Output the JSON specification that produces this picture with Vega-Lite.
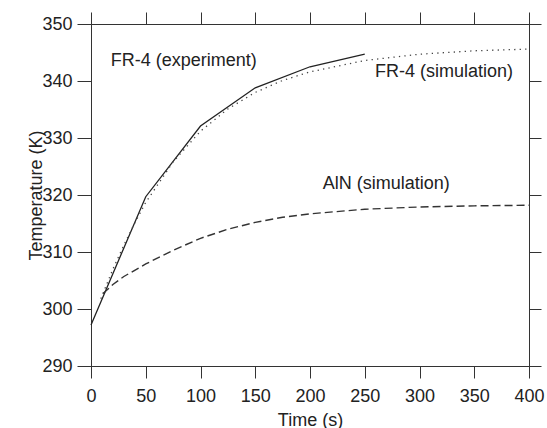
{
  "$schema": "https://vega.github.io/schema/vega-lite/v6.json",
  "width": 438,
  "height": 342,
  "autosize": {"type": "none"},
  "padding": {"left": 91, "top": 24, "right": 18, "bottom": 62},
  "background": "white",
  "config": {
    "font": "Liberation Sans",
    "view": {"stroke": "#333", "strokeWidth": 1},
    "axis": {
      "grid": false,
      "domainColor": "#333",
      "tickColor": "#333",
      "labelColor": "#222",
      "titleColor": "#222",
      "labelFontSize": 18,
      "titleFontSize": 18,
      "titleFontWeight": "normal",
      "labelFont": "Liberation Sans",
      "titleFont": "Liberation Sans"
    }
  },
  "datasets": {
    "lines": [
      {"series": "exp", "time": 0, "temp": 297.2},
      {"series": "exp", "time": 50, "temp": 319.7},
      {"series": "exp", "time": 100, "temp": 332.1},
      {"series": "exp", "time": 150, "temp": 338.8},
      {"series": "exp", "time": 200, "temp": 342.5},
      {"series": "exp", "time": 250, "temp": 344.7},
      {"series": "sim", "time": 9, "temp": 301.8},
      {"series": "sim", "time": 20, "temp": 307.0},
      {"series": "sim", "time": 30, "temp": 311.2},
      {"series": "sim", "time": 40, "temp": 315.1},
      {"series": "sim", "time": 50, "temp": 318.7},
      {"series": "sim", "time": 75, "temp": 325.8},
      {"series": "sim", "time": 100, "temp": 331.2},
      {"series": "sim", "time": 125, "temp": 335.1},
      {"series": "sim", "time": 150, "temp": 338.0},
      {"series": "sim", "time": 175, "temp": 340.1},
      {"series": "sim", "time": 200, "temp": 341.6},
      {"series": "sim", "time": 250, "temp": 343.6},
      {"series": "sim", "time": 300, "temp": 344.7},
      {"series": "sim", "time": 350, "temp": 345.3},
      {"series": "sim", "time": 400, "temp": 345.6},
      {"series": "aln", "time": 11, "temp": 302.7},
      {"series": "aln", "time": 20, "temp": 304.3},
      {"series": "aln", "time": 30, "temp": 305.7},
      {"series": "aln", "time": 50, "temp": 307.9},
      {"series": "aln", "time": 75, "temp": 310.3},
      {"series": "aln", "time": 100, "temp": 312.4},
      {"series": "aln", "time": 125, "temp": 314.0},
      {"series": "aln", "time": 150, "temp": 315.2},
      {"series": "aln", "time": 175, "temp": 316.1},
      {"series": "aln", "time": 200, "temp": 316.7},
      {"series": "aln", "time": 250, "temp": 317.5},
      {"series": "aln", "time": 300, "temp": 317.9},
      {"series": "aln", "time": 350, "temp": 318.1},
      {"series": "aln", "time": 400, "temp": 318.2}
    ],
    "notes": [
      {"label": "FR-4 (experiment)", "time": 18, "temp": 342.7},
      {"label": "FR-4 (simulation)", "time": 259.4, "temp": 340.7},
      {"label": "AlN (simulation)", "time": 211.6, "temp": 321.0}
    ]
  },
  "layer": [
    {
      "data": {"name": "lines"},
      "transform": [{"filter": "datum.series === 'exp'"}],
      "mark": {"type": "line", "color": "#222", "strokeWidth": 1.3},
      "encoding": {
        "x": {
          "field": "time", "type": "quantitative",
          "scale": {"domain": [0, 400], "nice": false},
          "axis": {
            "orient": "bottom", "values": [0, 50, 100, 150, 200, 250, 300, 350, 400],
            "tickSize": 12, "labelPadding": 9, "labelFlush": false,
            "title": "Time (s)", "titlePadding": 6
          }
        },
        "y": {
          "field": "temp", "type": "quantitative",
          "scale": {"domain": [290, 350], "nice": false, "zero": false},
          "axis": {
            "orient": "left", "values": [290, 300, 310, 320, 330, 340, 350],
            "tickSize": 14, "labelPadding": 5, "labelFlush": false,
            "title": "Temperature (K)", "titlePadding": 0, "titleBaseline": "alphabetic"
          }
        }
      }
    },
    {
      "data": {"name": "lines"},
      "transform": [{"filter": "datum.series === 'sim'"}],
      "mark": {"type": "line", "color": "#444", "strokeWidth": 1.3, "strokeDash": [1.3, 4.2]},
      "encoding": {
        "x": {"field": "time", "type": "quantitative", "axis": null},
        "y": {"field": "temp", "type": "quantitative", "axis": null}
      }
    },
    {
      "data": {"name": "lines"},
      "transform": [{"filter": "datum.series === 'aln'"}],
      "mark": {"type": "line", "color": "#333", "strokeWidth": 1.4, "strokeDash": [8, 4]},
      "encoding": {
        "x": {"field": "time", "type": "quantitative", "axis": null},
        "y": {"field": "temp", "type": "quantitative", "axis": null}
      }
    },
    {
      "data": {"name": "notes"},
      "mark": {"type": "text", "align": "left", "baseline": "alphabetic", "fontSize": 18, "color": "#222", "font": "Liberation Sans"},
      "encoding": {
        "x": {
          "field": "time", "type": "quantitative",
          "axis": {"orient": "top", "values": [0, 50, 100, 150, 200, 250, 300, 350, 400], "tickSize": 12, "labels": false, "title": null}
        },
        "y": {
          "field": "temp", "type": "quantitative",
          "axis": {"orient": "right", "values": [290, 300, 310, 320, 330, 340, 350], "tickSize": 12, "labels": false, "title": null}
        },
        "text": {"field": "label"}
      }
    }
  ],
  "resolve": {"axis": {"x": "independent", "y": "independent"}}
}
